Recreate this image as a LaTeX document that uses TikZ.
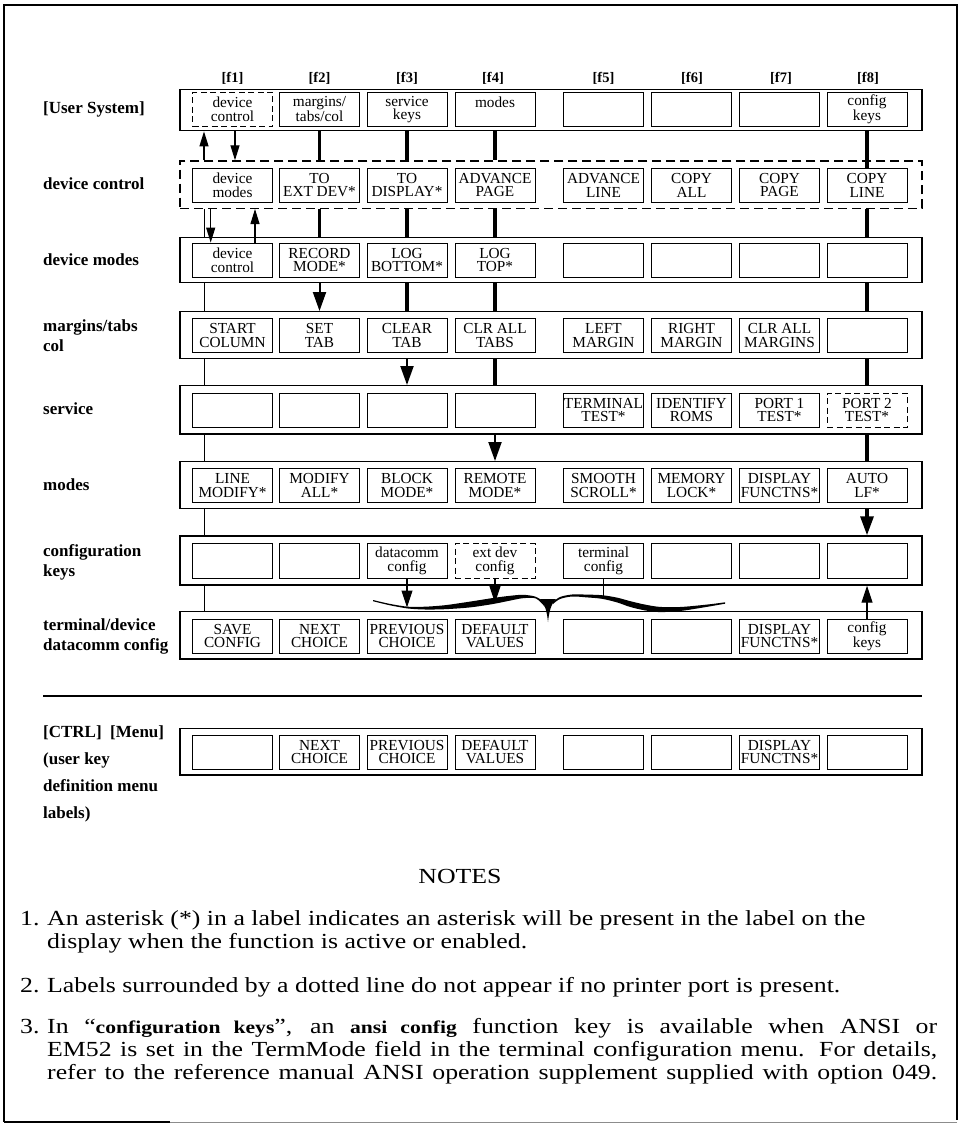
\documentclass[tikz,border=0pt]{standalone}
\usepackage{fontspec}
\setmainfont{Liberation Serif}
\newfontfamily\notesfont[FakeStretch=1.2]{Liberation Serif}
\usetikzlibrary{arrows.meta}
\begin{document}
\begin{tikzpicture}[x=1pt,y=-1pt,
  key/.style={draw,line width=0.9pt,minimum width=80pt,minimum height=34.5pt,inner sep=0pt,align=center,font=\fontsize{15.3}{13.3}\selectfont},
  dkey/.style={key,dash pattern=on 6pt off 3.5pt},
  rowbox/.style={draw,line width=1.4pt,minimum width=742pt,inner sep=0pt},
  rowlabel/.style={anchor=west,align=left,inner sep=0pt,font=\fontsize{17}{20}\selectfont\bfseries},
  fhead/.style={anchor=base,inner sep=0pt,font=\fontsize{14.5}{14.5}\selectfont\bfseries},
  bus/.style={line width=1pt},
  heavy/.style={line width=3.2pt},
  thinarrow/.style={line width=1.1pt,-{Triangle[length=15pt,width=9pt]}},
  medarrow/.style={line width=1.1pt,-{Triangle[length=17pt,width=11pt]}},
  bigarrow/.style={line width=2pt,-{Triangle[length=19pt,width=13pt]}},
  notefont/.style={inner sep=0pt,font=\notesfont\fontsize{21.5}{24}\selectfont}
]
\useasboundingbox (0,0) rectangle (963,1126);
% frame
\draw[line width=1.8pt] (4,1122) -- (4,5) -- (957,5) -- (957,1120);
\draw[line width=1.8pt] (4,1122) -- (170,1122);
\draw[line width=1pt,black!45] (170,1122) -- (957,1122);

% column headers
\node[fhead] (h1) at (232.5,83) {[f1]};
\node[fhead] (h2) at (319.5,83) {[f2]};
\node[fhead] (h3) at (407,83) {[f3]};
\node[fhead] (h4) at (493,83) {[f4]};
\node[fhead] (h5) at (603.5,83) {[f5]};
\node[fhead] (h6) at (692,83) {[f6]};
\node[fhead] (h7) at (781,83) {[f7]};
\node[fhead] (h8) at (868,83) {[f8]};

% row labels
\node[rowlabel] (l1) at (43,109) {[User System]};
\node[rowlabel] (l2) at (43,184) {device control};
\node[rowlabel] (l3) at (43,260) {device modes};
\node[rowlabel] (l4) at (43,336) {margins/tabs\\col};
\node[rowlabel] (l5) at (43,409) {service};
\node[rowlabel] (l6) at (43,485) {modes};
\node[rowlabel] (l7) at (43,562) {configuration\\keys};
\node[rowlabel] (l8) at (43,636) {terminal/device\\datacomm config};
\node[rowlabel,font=\fontsize{17}{27}\selectfont\bfseries] (l9) at (43,774) {[CTRL]\ \ [Menu]\\(user key\\definition menu\\labels)};

% row boxes
\node[rowbox,minimum height=41.4pt] (r1) at (551,110) {};
\node[rowbox,dash pattern=on 9pt off 5pt,minimum height=47.3pt] (r2) at (551,184.65) {};
\node[rowbox,minimum height=45.4pt] (r3) at (551,260) {};
\node[rowbox,minimum height=46.6pt] (r4) at (551,335) {};
\node[rowbox,minimum height=48.3pt] (r5) at (551,409.85) {};
\node[rowbox,minimum height=46.6pt] (r6) at (551,485) {};
\node[rowbox,minimum height=49pt] (r7) at (551,560.5) {};
\node[rowbox,minimum height=47.3pt] (r8) at (551,635.35) {};
\node[rowbox,minimum height=46.7pt] (r9) at (551,751.65) {};

% separator
\coordinate (sepL) at (43,696);
\coordinate (sepR) at (922,696);
\draw[line width=1.6pt] (sepL) -- (sepR);

% row 1
\node[dkey] (k11) at (232.5,109.3) {device\\control};
\node[key] (k12) at (319.5,109.3) {margins/\\tabs/col};
\node[key] (k13) at (407,109.3) {service\\keys};
\node[key] (k14) at (495,109.3) {modes\\\mbox{}};
\node[key] (k15) at (603.5,109.3) {};
\node[key] (k16) at (691.5,109.3) {};
\node[key] (k17) at (779.5,109.3) {};
\node[key] (k18) at (867,109.3) {config\\keys};
% row 2
\node[key] (k21) at (232.5,185.3) {device\\modes};
\node[key] (k22) at (319.5,185.3) {TO\\EXT DEV*};
\node[key] (k23) at (407,185.3) {TO\\DISPLAY*};
\node[key] (k24) at (495,185.3) {ADVANCE\\PAGE};
\node[key] (k25) at (603.5,185.3) {ADVANCE\\LINE};
\node[key] (k26) at (691.5,185.3) {COPY\\ALL};
\node[key] (k27) at (779.5,185.3) {COPY\\PAGE};
\node[key] (k28) at (867,185.3) {COPY\\LINE};
% row 3
\node[key] (k31) at (232.5,260.3) {device\\control};
\node[key] (k32) at (319.5,260.3) {RECORD\\MODE*};
\node[key] (k33) at (407,260.3) {LOG\\BOTTOM*};
\node[key] (k34) at (495,260.3) {LOG\\TOP*};
\node[key] (k35) at (603.5,260.3) {};
\node[key] (k36) at (691.5,260.3) {};
\node[key] (k37) at (779.5,260.3) {};
\node[key] (k38) at (867,260.3) {};
% row 4
\node[key] (k41) at (232.5,335.5) {START\\COLUMN};
\node[key] (k42) at (319.5,335.5) {SET\\TAB};
\node[key] (k43) at (407,335.5) {CLEAR\\TAB};
\node[key] (k44) at (495,335.5) {CLR ALL\\TABS};
\node[key] (k45) at (603.5,335.5) {LEFT\\MARGIN};
\node[key] (k46) at (691.5,335.5) {RIGHT\\MARGIN};
\node[key] (k47) at (779.5,335.5) {CLR ALL\\MARGINS};
\node[key] (k48) at (867,335.5) {};
% row 5
\node[key] (k51) at (232.5,410.3) {};
\node[key] (k52) at (319.5,410.3) {};
\node[key] (k53) at (407,410.3) {};
\node[key] (k54) at (495,410.3) {};
\node[key] (k55) at (603.5,410.3) {TERMINAL\\TEST*};
\node[key] (k56) at (691.5,410.3) {IDENTIFY\\ROMS};
\node[key] (k57) at (779.5,410.3) {PORT 1\\TEST*};
\node[dkey] (k58) at (867,410.3) {PORT 2\\TEST*};
% row 6
\node[key] (k61) at (232.5,485.5) {LINE\\MODIFY*};
\node[key] (k62) at (319.5,485.5) {MODIFY\\ALL*};
\node[key] (k63) at (407,485.5) {BLOCK\\MODE*};
\node[key] (k64) at (495,485.5) {REMOTE\\MODE*};
\node[key] (k65) at (603.5,485.5) {SMOOTH\\SCROLL*};
\node[key] (k66) at (691.5,485.5) {MEMORY\\LOCK*};
\node[key] (k67) at (779.5,485.5) {DISPLAY\\FUNCTNS*};
\node[key] (k68) at (867,485.5) {AUTO\\LF*};
% row 7
\node[key] (k71) at (232.5,560.8) {};
\node[key] (k72) at (319.5,560.8) {};
\node[key] (k73) at (407,560.8) {datacomm\\config};
\node[dkey] (k74) at (495,560.8) {ext dev\\config};
\node[key] (k75) at (603.5,560.8) {terminal\\config};
\node[key] (k76) at (691.5,560.8) {};
\node[key] (k77) at (779.5,560.8) {};
\node[key] (k78) at (867,560.8) {};
% row 8
\node[key] (k81) at (232.5,636.2) {SAVE\\CONFIG};
\node[key] (k82) at (319.5,636.2) {NEXT\\CHOICE};
\node[key] (k83) at (407,636.2) {PREVIOUS\\CHOICE};
\node[key] (k84) at (495,636.2) {DEFAULT\\VALUES};
\node[key] (k85) at (603.5,636.2) {};
\node[key] (k86) at (691.5,636.2) {};
\node[key] (k87) at (779.5,636.2) {DISPLAY\\FUNCTNS*};
\node[key] (k88) at (867,636.2) {config\\keys};
% row 9
\node[key] (k91) at (232.5,752.2) {};
\node[key] (k92) at (319.5,752.2) {NEXT\\CHOICE};
\node[key] (k93) at (407,752.2) {PREVIOUS\\CHOICE};
\node[key] (k94) at (495,752.2) {DEFAULT\\VALUES};
\node[key] (k95) at (603.5,752.2) {};
\node[key] (k96) at (691.5,752.2) {};
\node[key] (k97) at (779.5,752.2) {DISPLAY\\FUNCTNS*};
\node[key] (k98) at (867,752.2) {};

% helper columns
\coordinate (bus) at (204,0);
\coordinate (dn) at (235,0);
\coordinate (ad) at (210.7,0);
\coordinate (au) at (255,0);

% r1 - r2
\draw[thinarrow] (bus |- r2.north) -- (bus |- r1.south);
\draw[thinarrow] (dn |- r1.south) -- (dn |- r2.north);
\foreach \k in {k12,k13,k14} \draw[heavy] (\k |- r1.south) -- (\k |- r2.north);
\draw[heavy] (k18 |- r1.south) -- (k28.north);
% r2 - r3
\draw[bus] (bus |- r2.south) -- (bus |- r3.north);
\draw[thinarrow] (ad |- r2.south) -- (ad |- k31.north);
\draw[thinarrow] (au |- k31.north) -- (au |- r2.south);
\foreach \k in {k22,k23,k24,k28} \draw[heavy] (\k |- r2.south) -- (\k |- r3.north);
% r3 - r4
\draw[bus] (bus |- r3.south) -- (bus |- r4.north);
\draw[bigarrow] (k32 |- r3.south) -- (k32 |- r4.north);
\foreach \k in {k33,k34,k38} \draw[heavy] (\k |- r3.south) -- (\k |- r4.north);
% r4 - r5
\draw[bus] (bus |- r4.south) -- (bus |- r5.north);
\draw[bigarrow] (k43 |- r4.south) -- (k43 |- r5.north);
\foreach \k in {k44,k48} \draw[heavy] (\k |- r4.south) -- (\k |- r5.north);
% r5 - r6
\draw[bus] (bus |- r5.south) -- (bus |- r6.north);
\draw[bigarrow] (k54 |- r5.south) -- (k54 |- r6.north);
\draw[heavy] (k58 |- r5.south) -- (k58 |- r6.north);
% r6 - r7
\draw[bus] (bus |- r6.south) -- (bus |- r7.north);
\draw[heavy,-{Triangle[length=19pt,width=13pt]}] (k68 |- r6.south) -- (k68 |- r7.north);
% r7 - r8
\draw[bus] (bus |- r7.south) -- (bus |- r8.north);

% brace
\coordinate (b3) at (407,607.5);
\coordinate (b4) at (495,603);
\coordinate (b5) at (603.5,597);
\fill plot[smooth] coordinates {(373,600) (390,603.9) (408,606.7) (425,606.7) (445,605.2) (470,601.6) (493,598) (510,595.8) (523,594.8) (535,596.5) (543,601)}
  -- plot[smooth] coordinates {(545,607) (536,598.5) (523,598.2) (510,600.6) (493,604) (470,607.4) (445,609.2) (425,609.5) (408,608.5) (390,605.3) (373,601.2)} -- cycle;
\fill (540,599) .. controls (545,604) and (547,612) .. (548,622) .. controls (549,612) and (551,604) .. (556,599) -- cycle;
\fill plot[smooth] coordinates {(553,602) (560,597) (572,594.5) (587,594.6) (602,595.2) (617,597.6) (630,601.1) (645,604.6) (660,606.9) (680,607) (697,605.6) (712,604) (725,602.3)}
  -- plot[smooth] coordinates {(725,603.7) (712,606) (697,608.5) (680,611) (660,612.1) (645,610.4) (630,606.9) (617,602.4) (602,598.8) (587,597.4) (572,596.5) (560,599) (553,604)} -- cycle;

\draw[medarrow] (k73.south) -- (b3);
\draw[medarrow] (k74.south) -- (b4);
\draw[bus] (k75.south) -- (b5);
\draw[medarrow] (k88.north) -- (k88 |- r7.south);

% notes
\node[notefont,anchor=base] (nt) at (460,883) {NOTES};
\node[notefont,anchor=base west] (n1) at (20,925) {1.};
\node[notefont,anchor=base west] (n1a) at (47,925) {An asterisk (*) in a label indicates an asterisk will be present in the label on the};
\node[notefont,anchor=base west] (n1b) at (47,948) {display when the function is active or enabled.};
\node[notefont,anchor=base west] (n2) at (20,992) {2.};
\node[notefont,anchor=base west] (n2a) at (47,992) {Labels surrounded by a dotted line do not appear if no printer port is present.};
\node[notefont,anchor=base west] (n3) at (20,1033) {3.};
\node[notefont,anchor=base west] (n3a) at (47,1033) {\makebox[890pt][s]{In “{\fontsize{18}{20}\selectfont\bfseries configuration keys}”, an {\fontsize{18}{20}\selectfont\bfseries ansi config} function key is available when ANSI or}};
\node[notefont,anchor=base west] (n3b) at (47,1056) {\makebox[890pt][s]{EM52 is set in the TermMode field in the terminal configuration menu. For details,}};
\node[notefont,anchor=base west] (n3c) at (47,1079) {\makebox[890pt][s]{refer to the reference manual ANSI operation supplement supplied with option 049.}};
\end{tikzpicture}
\end{document}
